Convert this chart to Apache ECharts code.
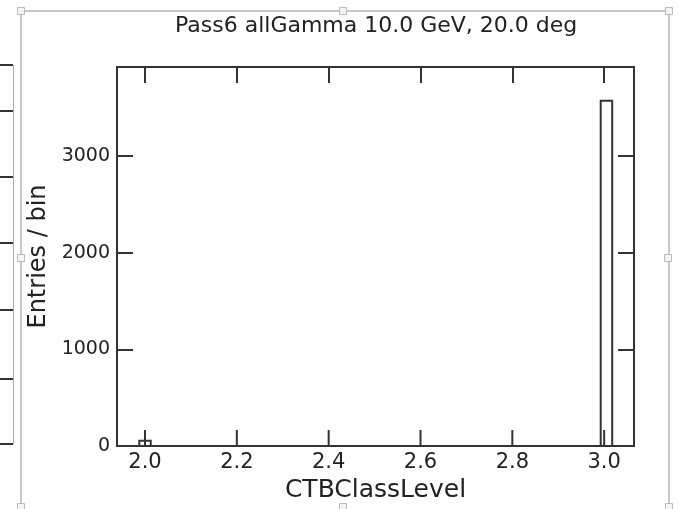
<!DOCTYPE html>
<html>
<head>
<meta charset="utf-8">
<script src="https://cdn.jsdelivr.net/npm/echarts@6/dist/echarts.min.js"></script>
<style>
  html, body { margin: 0; padding: 0; background: #fefefe; }
  #chart { width: 679px; height: 509px; }
</style>
</head>
<body>
<div id="chart"></div>
<script>
// Histogram of CTBClassLevel: one bin per occupied level
const binLow = [1.9875, 2.9925];
const binHigh = [2.0125, 3.0175];
const entries = [55, 3570];

const xTicks = [2.0, 2.2, 2.4, 2.6, 2.8, 3.0];
const yTicks = [0, 1000, 2000, 3000];

const titleText = 'Pass6 allGamma 10.0 GeV, 20.0 deg';
const xName = 'CTBClassLevel';
const yName = 'Entries / bin';

const FONT = 'DejaVu Sans';
const INK = '#333';
const TEXT = '#222';
const TICK_LEN = 16;

const bins = binLow.map((lo, i) => [lo, binHigh[i], entries[i]]);

const chart = echarts.init(document.getElementById('chart'), null, { renderer: 'canvas' });

const tickStyle = { color: INK, width: 2 };
const lineStyle = { color: INK, width: 2 };

// selection frame around the plot panel and the edge of the neighbouring panel
const gray = '#c8c8c8';
const handles = [[21, 11], [343, 11], [669, 11], [21, 258], [668, 258], [21, 507], [343, 507], [669, 507]];
const neighbourTicks = [65, 111, 177, 243, 310, 379, 444];
const graphics = [];
graphics.push({ type: 'line', shape: { x1: 21, y1: 11, x2: 669, y2: 11 }, style: { stroke: gray, lineWidth: 2 } });
graphics.push({ type: 'line', shape: { x1: 21, y1: 11, x2: 21, y2: 509 }, style: { stroke: gray, lineWidth: 2 } });
graphics.push({ type: 'line', shape: { x1: 669, y1: 11, x2: 669, y2: 509 }, style: { stroke: gray, lineWidth: 2 } });
handles.forEach(([x, y]) => {
  graphics.push({ type: 'rect', shape: { x: x - 3.5, y: y - 3.5, width: 7, height: 7 },
    style: { fill: '#f4f4f4', stroke: '#bbb', lineWidth: 1 }, z: 10 });
});
graphics.push({ type: 'line', shape: { x1: 13.5, y1: 65, x2: 13.5, y2: 444 }, style: { stroke: '#aaa', lineWidth: 1 } });
neighbourTicks.forEach(y => {
  graphics.push({ type: 'line', shape: { x1: 0, y1: y, x2: 13, y2: y }, style: { stroke: INK, lineWidth: 2 } });
});

const xRange = { type: 'value', min: 1.939, max: 3.065, splitLine: { show: false } };
const yRange = { type: 'value', min: 0, max: 3920, splitLine: { show: false } };

chart.setOption({
  backgroundColor: '#fefefe',
  animation: false,
  title: {
    text: titleText,
    left: 170,
    top: 10,
    textStyle: { fontFamily: FONT, fontSize: 22, fontWeight: 'normal', color: TEXT }
  },
  grid: { left: 117, right: 45, top: 67, bottom: 63, containLabel: false },
  graphic: graphics,
  xAxis: [
    // bottom edge: line, labels and name
    Object.assign({}, xRange, {
      position: 'bottom',
      name: xName, nameLocation: 'middle', nameGap: 32,
      nameTextStyle: { fontFamily: FONT, fontSize: 25, color: TEXT },
      axisLine: { show: true, onZero: false, lineStyle: lineStyle },
      axisTick: { show: false },
      axisLabel: { show: true, customValues: xTicks, margin: 6, fontFamily: FONT, fontSize: 21, color: TEXT,
        formatter: v => v.toFixed(1) }
    }),
    // top edge with inward ticks
    Object.assign({}, xRange, {
      position: 'top',
      axisLine: { show: true, onZero: false, lineStyle: lineStyle },
      axisTick: { show: true, inside: true, length: TICK_LEN, customValues: xTicks, lineStyle: tickStyle },
      axisLabel: { show: false }
    })
  ],
  yAxis: [
    Object.assign({}, yRange, {
      position: 'left',
      name: yName, nameLocation: 'middle', nameGap: 61,
      nameTextStyle: { fontFamily: FONT, fontSize: 24, color: TEXT },
      axisLine: { show: true, onZero: false, lineStyle: lineStyle },
      axisTick: { show: true, inside: true, length: TICK_LEN, customValues: yTicks, lineStyle: tickStyle },
      axisLabel: { show: true, customValues: yTicks, margin: 7, fontFamily: FONT, fontSize: 19, color: TEXT,
        formatter: v => String(v) }
    }),
    Object.assign({}, yRange, {
      position: 'right',
      axisLine: { show: true, onZero: false, lineStyle: lineStyle },
      axisTick: { show: true, inside: true, length: TICK_LEN, customValues: yTicks, lineStyle: tickStyle },
      axisLabel: { show: false }
    })
  ],
  series: [
    {
      // histogram bins as outlined boxes
      type: 'custom',
      xAxisIndex: 0,
      yAxisIndex: 0,
      data: bins,
      encode: { x: [0, 1], y: 2 },
      z: 1,
      renderItem: function (params, api) {
        const topLeft = api.coord([api.value(0), api.value(2)]);
        const bottomRight = api.coord([api.value(1), 0]);
        return {
          type: 'rect',
          shape: { x: topLeft[0], y: topLeft[1], width: bottomRight[0] - topLeft[0], height: bottomRight[1] - topLeft[1] },
          style: { fill: 'none', stroke: INK, lineWidth: 2 }
        };
      }
    },
    {
      // inward ticks along the bottom edge
      type: 'custom',
      xAxisIndex: 0,
      yAxisIndex: 0,
      data: xTicks.map(v => [v, 0]),
      encode: { x: 0, y: 1 },
      z: 3,
      silent: true,
      renderItem: function (params, api) {
        const p = api.coord([api.value(0), 0]);
        return {
          type: 'line',
          shape: { x1: p[0], y1: p[1], x2: p[0], y2: p[1] - TICK_LEN },
          style: { stroke: INK, lineWidth: 2 }
        };
      }
    }
  ]
});
</script>
</body>
</html>
